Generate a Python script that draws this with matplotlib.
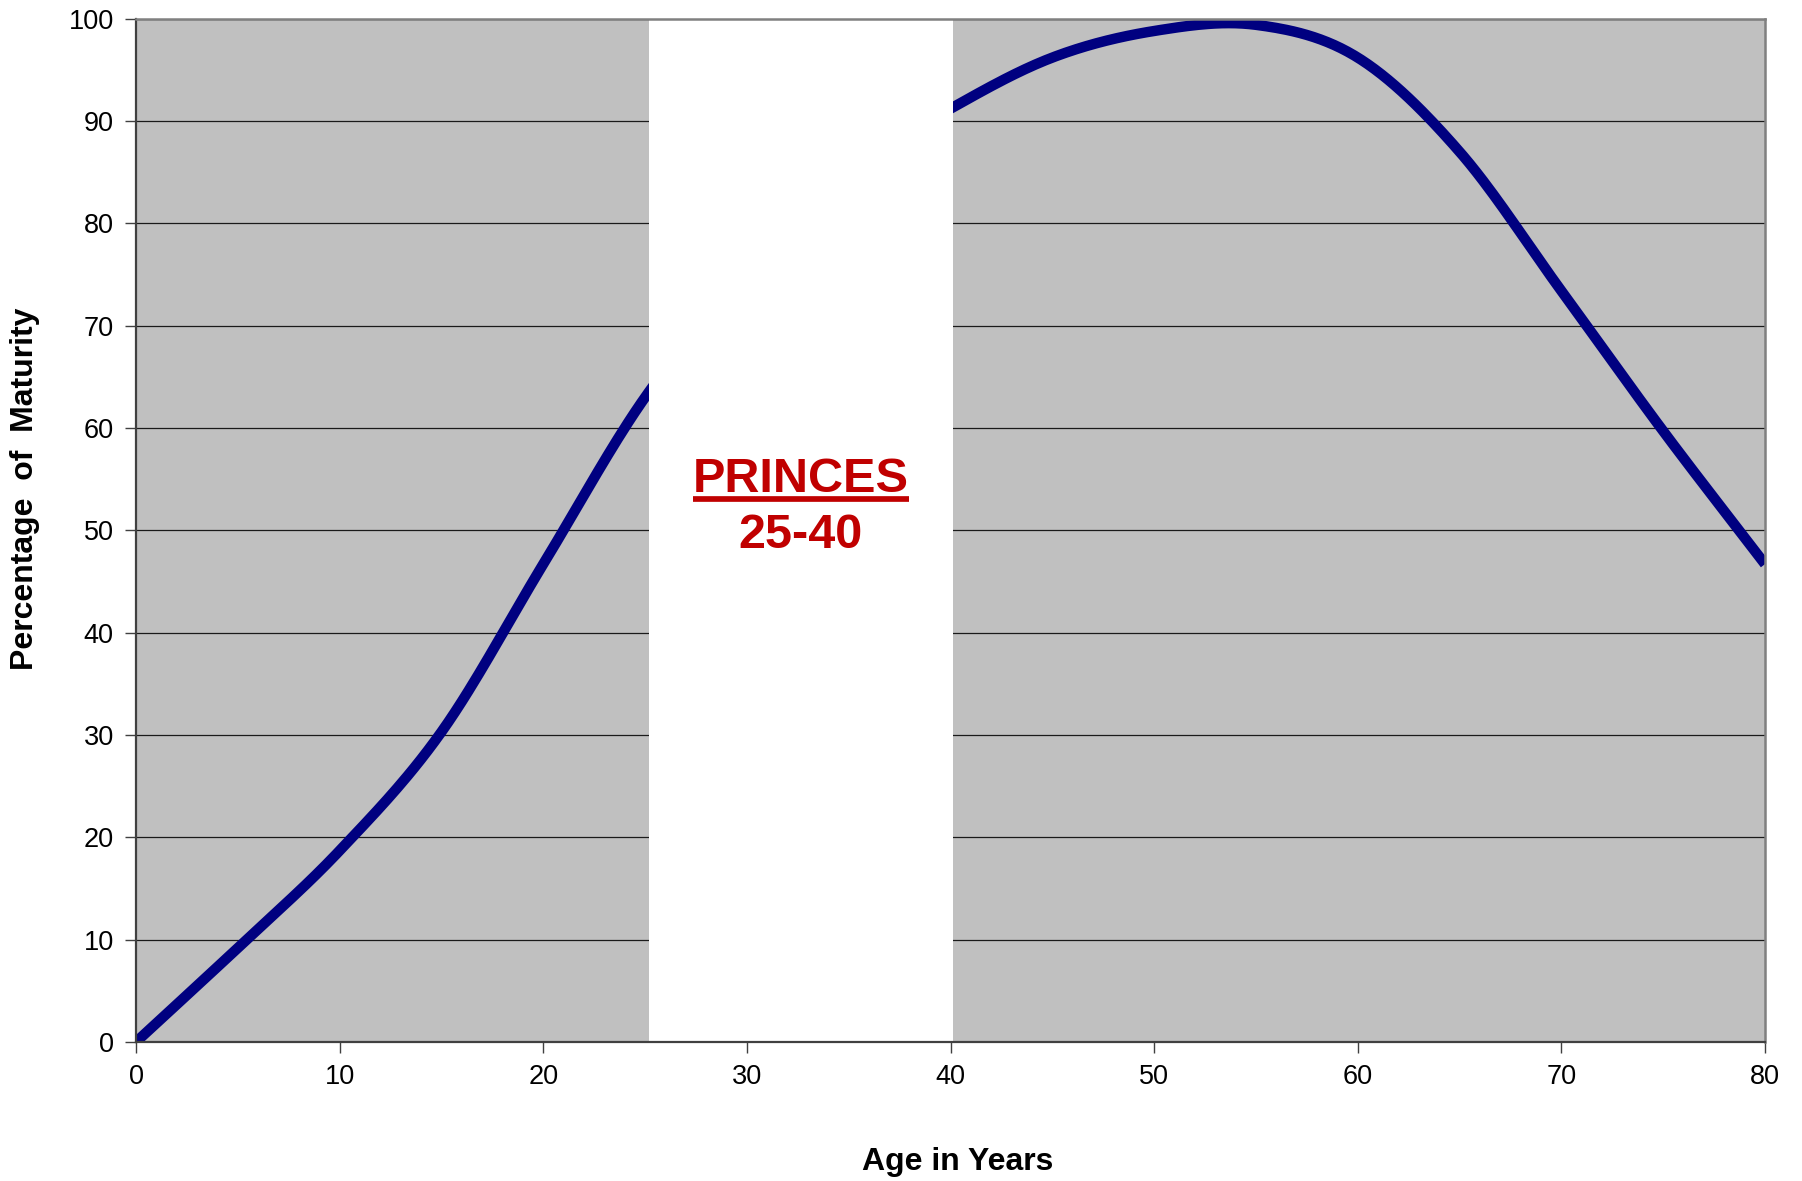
import numpy as np
import matplotlib
matplotlib.use("Agg")
import matplotlib.pyplot as plt
from matplotlib.lines import Line2D

# Data
ages = [0, 5, 10, 15, 20, 25, 30, 35, 40, 45, 50, 55, 60, 65, 70, 75, 80]
maturity = [0, 9.2, 18.7, 30.3, 46.7, 63, 75, 85, 91.2, 96.2, 98.8, 99.4, 96.2, 87.0, 73.4, 59.7, 46.7]
x_ticks = [0, 10, 20, 30, 40, 50, 60, 70, 80]
y_ticks = [0, 10, 20, 30, 40, 50, 60, 70, 80, 90, 100]
band = (25.2, 40.1)
band_title = "PRINCES"
band_range = "25-40"

plt.rcParams['font.family'] = ['Liberation Sans', 'DejaVu Sans']


def smooth(xs, ys, n=30):
    xs = np.asarray(xs, float)
    ys = np.asarray(ys, float)
    px = np.concatenate([[2 * xs[0] - xs[1]], xs, [2 * xs[-1] - xs[-2]]])
    py = np.concatenate([[2 * ys[0] - ys[1]], ys, [2 * ys[-1] - ys[-2]]])
    ox, oy = [], []
    t = np.linspace(0, 1, n, endpoint=False)
    for i in range(1, len(px) - 2):
        p0, p1, p2, p3 = [np.array([px[j], py[j]]) for j in range(i - 1, i + 3)]
        for tt in t:
            pt = 0.5 * ((2 * p1) + (-p0 + p2) * tt + (2 * p0 - 5 * p1 + 4 * p2 - p3) * tt ** 2
                        + (-p0 + 3 * p1 - 3 * p2 + p3) * tt ** 3)
            ox.append(pt[0]); oy.append(pt[1])
    ox.append(xs[-1]); oy.append(ys[-1])
    return np.array(ox), np.array(oy)


fig = plt.figure(figsize=(18.02, 11.81), dpi=100)
ax = fig.add_axes([136 / 1802, 1 - 1042 / 1181, (1765 - 136) / 1802, (1042 - 18.7) / 1181])
ax.set_facecolor('#C0C0C0')

sx, sy = smooth(ages, maturity)
ax.plot(sx, sy, color='#000080', lw=7.5, solid_capstyle='butt', zorder=3)

ax.set_xlim(0, 80)
ax.set_ylim(0, 100)
ax.set_xticks(x_ticks)
ax.set_yticks(y_ticks)
ax.yaxis.grid(True, color='#1a1a1a', lw=0.9, zorder=1)
ax.set_axisbelow(True)

ax.axvspan(band[0], band[1], color='white', zorder=4, lw=0)

ax.tick_params(axis='both', direction='out', length=8, width=1, color='#404040',
               labelsize=19.5, pad=8)
for s in ['left', 'bottom']:
    ax.spines[s].set_color('#404040')
    ax.spines[s].set_linewidth(1.6)
for s in ['top', 'right']:
    ax.spines[s].set_color('#808080')
    ax.spines[s].set_linewidth(1.8)
for s in ax.spines.values():
    s.set_zorder(5)

cx = (band[0] + band[1]) / 2
t1 = ax.text(cx, 53.7, band_title, ha='center', va='baseline',
             fontsize=35, fontweight='bold', color='#C00000', zorder=6)
ax.text(cx, 48.3, band_range, ha='center', va='baseline',
        fontsize=35, fontweight='bold', color='#C00000', zorder=6)

fig.text(958 / 1802, 1 - 1162 / 1181, 'Age in Years', ha='center', va='center',
         fontsize=23, fontweight='bold')
fig.text(25 / 1802, 1 - 489 / 1181, 'Percentage  of  Maturity', ha='center', va='center',
         rotation=90, fontsize=23, fontweight='bold')

fig.canvas.draw()
bb = t1.get_window_extent(renderer=fig.canvas.get_renderer())
_, base_y = ax.transData.transform((cx, 53.7))
uy_disp = base_y - 7
inv = fig.transFigure.inverted()
(x0, uy), (x1, _) = inv.transform([(bb.x0, uy_disp), (bb.x1, uy_disp)])
fig.add_artist(Line2D([x0, x1], [uy, uy], transform=fig.transFigure,
                      color='#C00000', lw=4.1, solid_capstyle='butt', zorder=7))

fig.savefig('out.png', dpi=100)
